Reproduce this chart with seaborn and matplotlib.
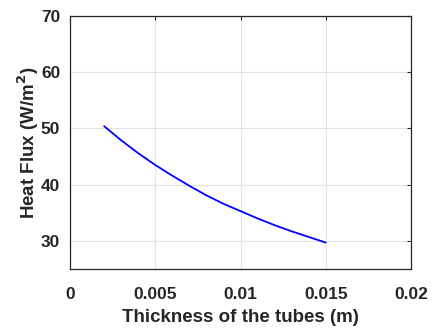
import numpy as np
import pandas as pd
import matplotlib
matplotlib.use("Agg")
import matplotlib.pyplot as plt
import seaborn as sns

# 数据
thickness = [0.002, 0.003, 0.004, 0.005, 0.006, 0.007, 0.008, 0.009,
             0.010, 0.011, 0.012, 0.013, 0.014, 0.015]
heat_flux = [50.4, 47.9, 45.6, 43.5, 41.6, 39.8, 38.1, 36.6,
             35.3, 34.0, 32.8, 31.7, 30.7, 29.7]
x_ticks = [0, 0.005, 0.01, 0.015, 0.02]
x_labels = ['0', '0.005', '0.01', '0.015', '0.02']
y_ticks = [30, 40, 50, 60, 70]

df = pd.DataFrame({'Thickness': thickness, 'HeatFlux': heat_flux})

sns.set_style("whitegrid")
plt.rcParams['font.family'] = ['Liberation Sans', 'DejaVu Sans']

fig = plt.figure(figsize=(4.33, 3.29), dpi=100)
ax = fig.add_axes([70 / 433, 1 - 269 / 329, 341 / 433, 253 / 329])

sns.lineplot(data=df, x='Thickness', y='HeatFlux', color='#0000ff', linewidth=1.3, ax=ax)

ax.set_xlim(0, 0.02)
ax.set_ylim(25, 70)
ax.set_xticks(x_ticks)
ax.set_xticklabels(x_labels)
ax.set_yticks(y_ticks)
ax.grid(True, color='#e3e3e3', linewidth=0.8)
for s in ax.spines.values():
    s.set_color('#262626')
    s.set_linewidth(0.9)
ax.tick_params(direction='in', length=3, width=0.8, color='#262626',
               top=True, right=True, labelsize=12.5, labelcolor='#262626')
ax.tick_params(axis='x', pad=13)
ax.tick_params(axis='y', pad=7)
for lab in ax.get_xticklabels() + ax.get_yticklabels():
    lab.set_fontweight('bold')

ax.set_xlabel('Thickness of the tubes (m)', fontsize=13.5, fontweight='bold', color='#262626', labelpad=5)
ax.set_ylabel('Heat Flux (W/m$^\\mathbf{2}$)', fontsize=13.5, fontweight='bold', color='#262626', labelpad=0)

fig.savefig('out.png', dpi=100, facecolor='white')
